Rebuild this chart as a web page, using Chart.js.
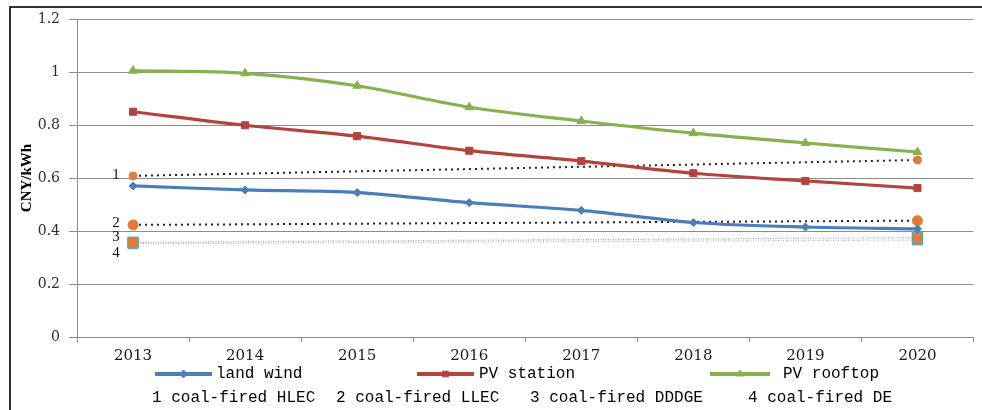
<!DOCTYPE html>
<html>
<head>
<meta charset="utf-8">
<script src="https://cdn.jsdelivr.net/npm/chart.js@4/dist/chart.umd.min.js"></script>
<style>
  html, body { margin: 0; padding: 0; background: #fff; }
  #wrap { width: 982px; height: 410px; }
</style>
</head>
<body>
<div id="wrap"><canvas id="costChart" width="982" height="410"></canvas></div>
<script>
const years = ['2013', '2014', '2015', '2016', '2017', '2018', '2019', '2020'];
const landWind = [0.57, 0.555, 0.545, 0.507, 0.478, 0.432, 0.415, 0.408];
const pvStation = [0.85, 0.799, 0.758, 0.703, 0.664, 0.618, 0.589, 0.562];
const pvRooftop = [1.005, 0.995, 0.948, 0.867, 0.815, 0.769, 0.732, 0.698];
// coal-fired benchmarks only have the two end values
const coalHLEC = [0.608, null, null, null, null, null, null, 0.668];
const coalLLEC = [0.423, null, null, null, null, null, null, 0.439];
const coalDDDGE = [0.357, null, null, null, null, null, null, 0.375];
const coalDE = [0.352, null, null, null, null, null, null, 0.366];
const seriesNames = ['land wind', 'PV station', 'PV rooftop'];
const coalNames = ['1 coal-fired HLEC', '2 coal-fired LLEC', '3 coal-fired DDDGE', '4 coal-fired DE'];
const coalTags = ['1', '2', '3', '4'];
const yTickLabels = ['0', '0.2', '0.4', '0.6', '0.8', '1', '1.2'];
const yTitle = 'CNY/kWh';

const orange = '#E07B39';

function mainSeries(label, data, color, style, r) {
    return {
        label: label,
        data: data,
        borderColor: color,
        backgroundColor: color,
        borderWidth: 3.2,
        pointStyle: style,
        pointRadius: r,
        pointHoverRadius: r,
        pointBorderWidth: 1,
        tension: 0.3,
        fill: false
    };
}

function coalSeries(label, data, lineColor, dash, width, style, r, ptBorder) {
    return {
        label: label,
        data: data,
        borderColor: lineColor,
        borderWidth: width,
        borderDash: dash,
        spanGaps: true,
        pointStyle: style,
        pointRadius: r,
        pointBackgroundColor: orange,
        pointBorderColor: ptBorder,
        pointBorderWidth: 1,
        fill: false
    };
}

// frame + white background
const framePlugin = {
    id: 'frame',
    beforeDraw(chart) {
        const ctx = chart.ctx;
        ctx.save();
        ctx.fillStyle = '#fff';
        ctx.fillRect(0, 0, chart.width, chart.height);
        ctx.fillStyle = '#333';
        ctx.fillRect(9, 6, 2, chart.height - 6);
        ctx.fillRect(9, 6, chart.width - 9, 2);
        ctx.restore();
    }
};

// the 1..4 tags to the left of the 2013 coal points
const tagPlugin = {
    id: 'tags',
    afterDatasetsDraw(chart) {
        const ctx = chart.ctx;
        const offsets = [-1, -2, -5, 9];
        ctx.save();
        ctx.font = '15px "Liberation Serif"';
        ctx.fillStyle = '#111';
        ctx.textAlign = 'center';
        ctx.textBaseline = 'middle';
        coalTags.forEach((t, k) => {
            const pt = chart.getDatasetMeta(3 + k).data[0];
            ctx.fillText(t, pt.x - 17, pt.y + offsets[k]);
        });
        ctx.restore();
    }
};

// two-row legend under the axis
const legendPlugin = {
    id: 'bottomLegend',
    afterDraw(chart) {
        const ctx = chart.ctx;
        const row1 = [
            { x0: 155, x1: 212, tx: 216 },
            { x0: 417, x1: 474, tx: 479 },
            { x0: 710, x1: 770, tx: 783 }
        ];
        const row2 = [152, 336, 530, 748];
        ctx.save();
        ctx.font = '16px "Liberation Mono"';
        ctx.textBaseline = 'middle';
        row1.forEach((it, i) => {
            const ds = chart.data.datasets[i];
            const y = 374;
            ctx.strokeStyle = ds.borderColor;
            ctx.lineWidth = 4;
            ctx.beginPath();
            ctx.moveTo(it.x0, y);
            ctx.lineTo(it.x1, y);
            ctx.stroke();
            ctx.fillStyle = ds.borderColor;
            ctx.lineWidth = 1;
            Chart.helpers.drawPoint(ctx, {
                pointStyle: ds.pointStyle, radius: 4, rotation: 0, borderWidth: 1
            }, (it.x0 + it.x1) / 2, y);
            ctx.fillStyle = '#000';
            ctx.fillText(seriesNames[i], it.tx, y);
        });
        ctx.fillStyle = '#000';
        coalNames.forEach((n, i) => ctx.fillText(n, row2[i], 398));
        ctx.restore();
    }
};

const ctx = document.getElementById('costChart').getContext('2d');
new Chart(ctx, {
    type: 'line',
    data: {
        labels: years,
        datasets: [
            mainSeries(seriesNames[0], landWind, '#4A7EBB', 'rectRot', 4),
            mainSeries(seriesNames[1], pvStation, '#B3433F', 'rect', 5),
            mainSeries(seriesNames[2], pvRooftop, '#88B04F', 'triangle', 5),
            coalSeries(coalNames[0], coalHLEC, '#222', [2, 4], 2, 'circle', 4, orange),
            coalSeries(coalNames[1], coalLLEC, '#222', [2, 4], 2, 'circle', 5, orange),
            coalSeries(coalNames[2], coalDDDGE, '#a8a8a8', [1, 1.5], 1.2, 'rect', 7.5, '#4BACC6'),
            coalSeries(coalNames[3], coalDE, '#b8b8b8', [1, 1.5], 1.2, 'rect', 7, '#4BACC6')
        ]
    },
    options: {
        responsive: false,
        animation: false,
        layout: { padding: { left: 12, top: 19, right: 5, bottom: 0 } },
        plugins: {
            legend: { display: false },
            tooltip: { enabled: false }
        },
        scales: {
            x: {
                offset: true,
                grid: { offset: true, drawOnChartArea: false, tickLength: 5, color: '#8c8c8c' },
                border: { color: '#8c8c8c' },
                ticks: { color: '#1a1a1a', padding: 5, font: { family: 'DejaVu Serif', size: 15 } },
                afterFit(scale) { scale.height = 73; }
            },
            y: {
                min: 0,
                max: 1.2,
                ticks: {
                    stepSize: 0.2,
                    color: '#2b2b3b',
                    padding: 9,
                    font: { family: 'DejaVu Serif', size: 14 },
                    callback: (v, i) => yTickLabels[i]
                },
                grid: { color: '#8c8c8c', tickLength: 8 },
                border: { color: '#8c8c8c' },
                title: {
                    display: true,
                    text: yTitle,
                    color: '#000',
                    padding: { top: 6, bottom: 0 },
                    font: { family: 'Liberation Serif', size: 15, weight: 'bold' }
                },
                afterFit(scale) { scale.width = 65; }
            }
        }
    },
    plugins: [framePlugin, tagPlugin, legendPlugin]
});
</script>
</body>
</html>
